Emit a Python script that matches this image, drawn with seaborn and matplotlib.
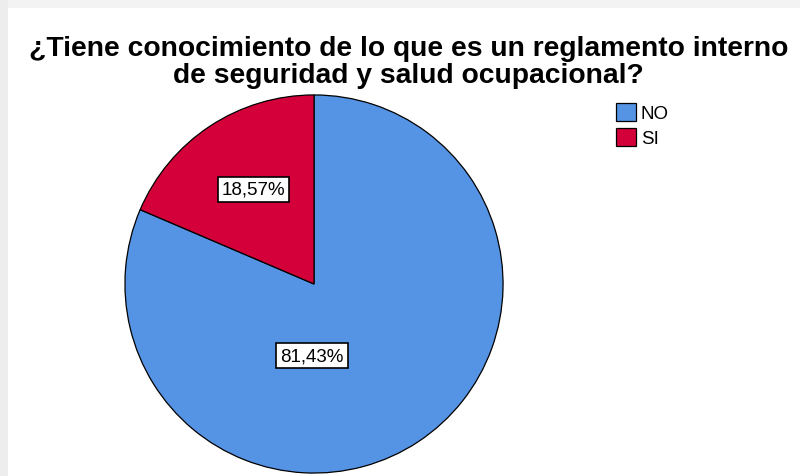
import matplotlib
matplotlib.use("Agg")
import matplotlib.pyplot as plt
import seaborn as sns
from matplotlib.patches import Rectangle

# Data
categories = ["NO", "SI"]
percentages = [81.43, 18.57]
pct_labels = ["81,43%", "18,57%"]
title = "¿Tiene conocimiento de lo que es un reglamento interno\nde seguridad y salud ocupacional?"

sns.set_theme(style="white")
plt.rcParams['font.family'] = ['Liberation Sans', 'DejaVu Sans']
plt.rcParams['text.color'] = 'black'
colors = sns.color_palette(["#5593E4", "#D4003A"])

fig = plt.figure(figsize=(8, 4.77), dpi=100)
fig.patch.set_facecolor("white")

# light grey frame strips at top and left (screenshot border)
fig.patches.append(Rectangle((0, 1 - 9 / 477), 1, 9 / 477, transform=fig.transFigure,
                             facecolor="#f3f3f3", edgecolor="none", zorder=0))
fig.patches.append(Rectangle((0, 0), 8 / 800, 1, transform=fig.transFigure,
                             facecolor="#ededed", edgecolor="none", zorder=0))

# pie axes: centre (314, 285) px, radius 190 px
ax = fig.add_axes([124 / 800, 2 / 477, 380 / 800, 380 / 477])
wedges, texts, autotexts = ax.pie(
    percentages, colors=colors, startangle=90, counterclock=False,
    autopct="%.2f%%", pctdistance=0.6,
    wedgeprops=dict(edgecolor="black", linewidth=0.9),
)
for t, lab in zip(autotexts, pct_labels):
    t.set_text(lab)
    t.set_fontsize(13.5)
    t.set_color("black")
    t.set_bbox(dict(boxstyle="square,pad=0.22", facecolor="white", edgecolor="black", linewidth=1.2))
# SPSS places the large slice label near the centre-bottom
autotexts[0].set_position((-0.01, -0.38))
autotexts[1].set_position((-0.32, 0.5))
ax.set_xlim(-1.005, 1.005)
ax.set_ylim(-1.005, 1.005)
ax.set_aspect("equal")
ax.axis("off")

fig.text(0.511, 0.925, title, ha="center", va="top", fontsize=20.3, fontweight="bold",
         linespacing=1.08, color="black")

leg = fig.legend(wedges, categories, loc="upper left", bbox_to_anchor=(608 / 800, 1 - 96 / 477),
                 frameon=False, fontsize=13.5, handlelength=1.1, handleheight=1.1,
                 handletextpad=0.25, labelspacing=0.3, borderaxespad=0)
for t in leg.get_texts():
    t.set_color("black")

fig.savefig("out.png", dpi=100)
